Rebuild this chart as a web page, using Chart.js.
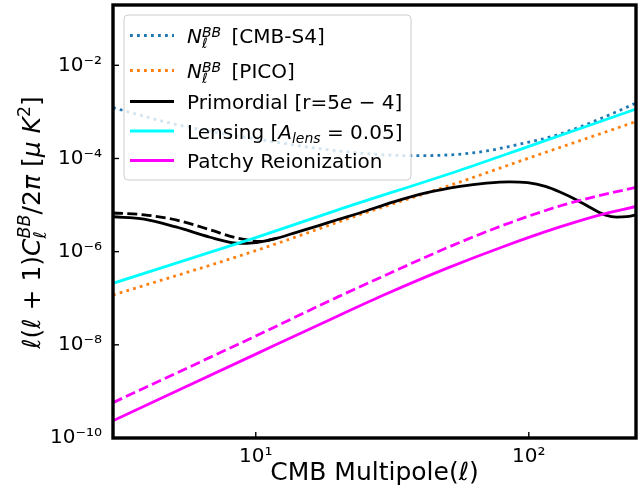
<!DOCTYPE html>
<html>
<head>
  <title>BB power spectra</title>
  <script src="https://cdn.jsdelivr.net/npm/chart.js@4.4.0/dist/chart.umd.min.js"></script>
  <style>
    body { margin: 0; background: #fff; }
    .chart-container { position: relative; width: 644px; height: 491px; }
  </style>
</head>
<body>
  <div class="chart-container">
    <canvas id="chart" width="644" height="491"></canvas>
  </div>

  <script>
// values (multipole ell, D_ell in muK^2)
var s4Ell = [3, 5.2, 10.5, 21, 37, 52, 70, 93, 123, 164, 217, 247];
var s4Nl = [1.23e-3, 5.25e-4, 2.51e-4, 1.41e-4, 1.15e-4, 1.2e-4, 1.45e-4, 2.04e-4, 3.02e-4, 5.5e-4, 1.1e-3, 1.55e-3];

var picoEll = [3, 10, 24, 52, 100, 247];
var picoNl = [1.17e-7, 1.05e-6, 6.2e-6, 2.7e-5, 1.02e-4, 6.2e-4];

var primEll = [3, 3.9, 5.1, 6.8, 8.3, 9.3, 10.4, 12, 14, 17, 20, 24, 32, 42, 56, 70, 85, 99, 115, 130, 151, 170, 190, 210, 228, 247];
var primCl = [5.62e-6, 5.01e-6, 3.39e-6, 2.04e-6, 1.55e-6, 1.51e-6, 1.62e-6, 1.95e-6, 2.57e-6, 3.63e-6, 4.9e-6, 6.76e-6, 1.17e-5,
  1.82e-5, 2.51e-5, 2.95e-5, 3.16e-5, 3.02e-5, 2.51e-5, 1.91e-5, 1.26e-5, 8.51e-6, 6.17e-6, 5.5e-6, 5.62e-6, 6.17e-6];

var primDashEll = [3, 3.9, 5.1, 6.8, 8.3, 9.3, 10.4, 12];
var primDashCl = [6.76e-6, 6.17e-6, 4.79e-6, 2.95e-6, 2.04e-6, 1.78e-6, 1.66e-6, 1.95e-6];

var lensEll = [3, 10, 20, 56, 100, 247];
var lensCl = [2.09e-7, 2.0e-6, 7.9e-6, 5.6e-5, 1.82e-4, 1.15e-3];

var patchyEll = [3, 10, 20, 30, 50, 80, 130, 180, 247];
var patchyCl = [2.34e-10, 6.31e-9, 4.17e-8, 1.23e-7, 4.37e-7, 1.26e-6, 3.39e-6, 6.03e-6, 9.33e-6];

var patchyDashEll = [3, 10, 20, 30, 50, 80, 130, 180, 247];
var patchyDashCl = [5.75e-10, 1.55e-8, 1.07e-7, 3.16e-7, 1.2e-6, 3.63e-6, 9.55e-6, 1.58e-5, 2.4e-5];

var xTickValues = [10, 100];
var xTickLabels = ['10¹', '10²'];
var yTickValues = [1e-10, 1e-8, 1e-6, 1e-4, 1e-2];
var yTickLabels = ['10⁻¹⁰', '10⁻⁸', '10⁻⁶', '10⁻⁴', '10⁻²'];

var FONT = "'DejaVu Sans'";
Chart.defaults.font.family = FONT;
Chart.defaults.color = '#000';

function pts(xs, ys) {
  return xs.map(function(x, i) { return { x: x, y: ys[i] }; });
}

function line(label, xs, ys, color, dash, order) {
  return {
    label: label,
    data: pts(xs, ys),
    borderColor: color,
    backgroundColor: color,
    borderWidth: 2.8,
    borderDash: dash,
    borderCapStyle: 'butt',
    pointRadius: 0,
    fill: false,
    cubicInterpolationMode: 'monotone',
    order: order
  };
}

var dotted = [2.8, 4.2];
var dashed = [10, 4.3];

var datasets = [
  line('CMB-S4', s4Ell, s4Nl, '#1f77b4', dotted, 7),
  line('PICO', picoEll, picoNl, '#ff7f0e', dotted, 6),
  line('Primordial', primEll, primCl, '#000000', [], 5),
  line('Primordial dashed', primDashEll, primDashCl, '#000000', dashed, 4),
  line('Lensing', lensEll, lensCl, '#00ffff', [], 3),
  line('Patchy', patchyEll, patchyCl, '#ff00ff', [], 2),
  line('Patchy dashed', patchyDashEll, patchyDashCl, '#ff00ff', dashed, 1)
];

// text with sub/superscripts: k = size factor, dy = raise in em, hold = no advance
function richRun(ctx, x, y, segs, size, draw) {
  segs.forEach(function(s) {
    var fs = size * (s.k || 1);
    ctx.font = (s.it ? 'italic ' : '') + fs + 'px ' + FONT;
    if (draw) ctx.fillText(s.t, x, y - (s.dy || 0) * size);
    if (!s.hold) x += ctx.measureText(s.t).width + (s.gap || 0) * size;
  });
  return x;
}

var legendRows = [
  { ds: 0, y: 43, segs: [{t: 'N', it: 1}, {t: 'ℓ', it: 1, k: 0.7, dy: -0.25, hold: 1}, {t: 'BB', it: 1, k: 0.7, dy: 0.32, gap: 0.2}, {t: ' [CMB-S4]'}] },
  { ds: 1, y: 78, segs: [{t: 'N', it: 1}, {t: 'ℓ', it: 1, k: 0.7, dy: -0.25, hold: 1}, {t: 'BB', it: 1, k: 0.7, dy: 0.32, gap: 0.2}, {t: ' [PICO]'}] },
  { ds: 2, y: 109, segs: [{t: 'Primordial [r=5'}, {t: 'e', it: 1}, {t: ' − 4]'}] },
  { ds: 4, y: 138.5, segs: [{t: 'Lensing ['}, {t: 'A', it: 1}, {t: 'lens', it: 1, k: 0.7, dy: -0.22}, {t: ' = 0.05]'}] },
  { ds: 5, y: 168, segs: [{t: 'Patchy Reionization'}] }
];

var yTitle = [
  {t: 'ℓ', it: 1}, {t: '('}, {t: 'ℓ', it: 1}, {t: ' + '}, {t: '1)'}, {t: 'C', it: 1},
  {t: 'ℓ', it: 1, k: 0.7, dy: -0.25, hold: 1}, {t: 'BB', it: 1, k: 0.7, dy: 0.42},
  {t: '/2'}, {t: 'π', it: 1}, {t: ' ['}, {t: 'μ', it: 1}, {t: ' '}, {t: 'K', it: 1},
  {t: '2', k: 0.7, dy: 0.42}, {t: ']'}
];

var decor = {
  id: 'decor',
  afterDatasetsDraw: function(chart) {
    var ctx = chart.ctx;
    ctx.save();
    // legend box
    ctx.beginPath();
    ctx.roundRect(124, 15, 287, 165, 4);
    ctx.fillStyle = 'rgba(255,255,255,0.8)';
    ctx.fill();
    ctx.strokeStyle = '#cccccc';
    ctx.lineWidth = 1;
    ctx.stroke();
    legendRows.forEach(function(r) {
      var ds = chart.data.datasets[r.ds];
      var hy = r.y - 7.5;
      ctx.beginPath();
      ctx.setLineDash(ds.borderDash);
      ctx.lineCap = 'butt';
      ctx.strokeStyle = ds.borderColor;
      ctx.lineWidth = ds.borderWidth;
      ctx.moveTo(130, hy);
      ctx.lineTo(174, hy);
      ctx.stroke();
      ctx.setLineDash([]);
      ctx.fillStyle = '#000';
      ctx.textBaseline = 'alphabetic';
      ctx.textAlign = 'left';
      richRun(ctx, 187, r.y, r.segs, 20, true);
    });
    ctx.restore();
  },
  afterDraw: function(chart) {
    var ctx = chart.ctx, a = chart.chartArea;
    var xs = chart.scales.x, ys = chart.scales.y;
    ctx.save();
    ctx.strokeStyle = '#000';
    // inward ticks
    ctx.lineWidth = 1.4;
    ys.ticks.forEach(function(t) {
      var p = ys.getPixelForValue(t.value);
      ctx.beginPath(); ctx.moveTo(a.left, p); ctx.lineTo(a.left + 6, p); ctx.stroke();
    });
    xs.ticks.forEach(function(t) {
      var p = xs.getPixelForValue(t.value);
      ctx.beginPath(); ctx.moveTo(p, a.bottom); ctx.lineTo(p, a.bottom - 6); ctx.stroke();
    });
    // frame
    ctx.lineWidth = 3.4;
    ctx.strokeRect(a.left, a.top, a.right - a.left, a.bottom - a.top);
    // y axis title
    ctx.fillStyle = '#000';
    ctx.textAlign = 'left';
    ctx.textBaseline = 'alphabetic';
    var w = richRun(ctx, 0, 0, yTitle, 25, false);
    ctx.translate(40, (a.top + a.bottom) / 2 + 1);
    ctx.rotate(-Math.PI / 2);
    richRun(ctx, -w / 2, 0, yTitle, 25, true);
    ctx.restore();
  }
};

var chart = new Chart(document.getElementById('chart').getContext('2d'), {
  type: 'line',
  data: { datasets: datasets },
  options: {
    responsive: false,
    animation: false,
    layout: { padding: { left: 0, right: 8, top: 5, bottom: 0 } },
    plugins: { legend: { display: false }, tooltip: { enabled: false } },
    scales: {
      x: {
        type: 'logarithmic',
        min: 3,
        max: 247,
        grid: { display: false },
        border: { display: false },
        afterBuildTicks: function(s) { s.ticks = xTickValues.map(function(v) { return { value: v }; }); },
        afterFit: function(s) { s.height = 53; s.paddingLeft = 0; s.paddingRight = 0; },
        ticks: {
          autoSkip: false,
          maxRotation: 0,
          padding: -1,
          font: { size: 20 },
          callback: function(v, i) { return xTickLabels[i]; }
        },
        title: { display: true, text: 'CMB Multipole(ℓ)', font: { size: 25 }, padding: { top: 0, bottom: 3 } }
      },
      y: {
        type: 'logarithmic',
        min: 1e-10,
        max: 0.197,
        grid: { display: false },
        border: { display: false },
        afterBuildTicks: function(s) { s.ticks = yTickValues.map(function(v) { return { value: v }; }); },
        afterFit: function(s) { s.width = 113; s.paddingTop = 0; s.paddingBottom = 0; },
        ticks: {
          autoSkip: false,
          padding: 3,
          font: { size: 20 },
          callback: function(v, i) { return yTickLabels[i]; }
        }
      }
    }
  },
  plugins: [decor]
});
  </script>
</body>
</html>
